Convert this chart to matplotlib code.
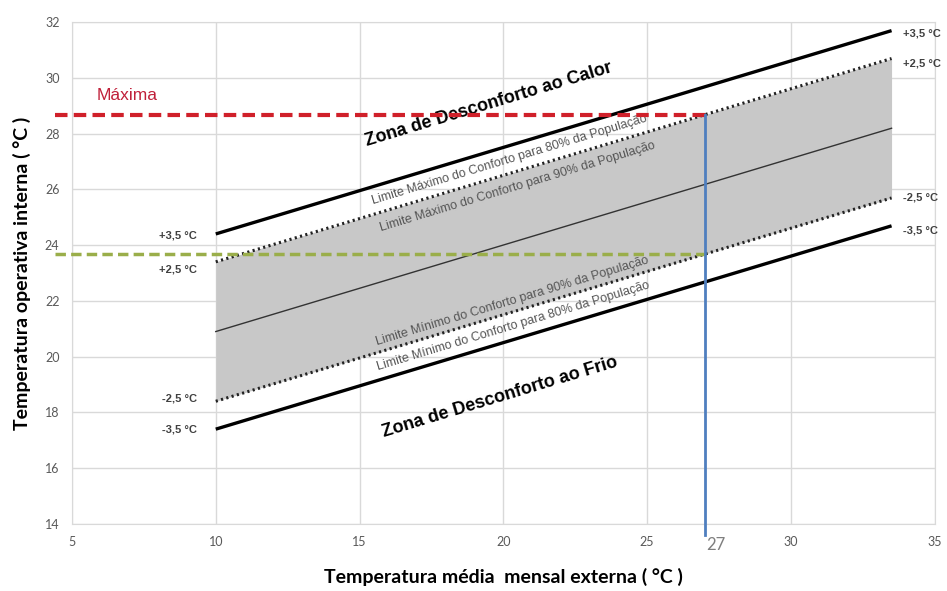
import matplotlib
matplotlib.use("Agg")
import matplotlib.pyplot as plt

# outdoor monthly mean temperature at the ends of the comfort lines
outdoor = [10, 33.5]
neutral = [20.9, 28.19]
upper_80 = [24.4, 31.69]   # +3,5 °C
upper_90 = [23.4, 30.69]   # +2,5 °C
lower_90 = [18.4, 25.69]   # -2,5 °C
lower_80 = [17.4, 24.69]   # -3,5 °C

ref_outdoor = 27
ref_max = 28.67
ref_min = 23.67
ref_start = 4.4

x_ticks = [5, 10, 15, 20, 25, 30, 35]
y_ticks = [14, 16, 18, 20, 22, 24, 26, 28, 30, 32]

plt.rcParams['font.family'] = ['Liberation Sans', 'DejaVu Sans']

fig = plt.figure(figsize=(9.47, 5.91), dpi=100)
ax = fig.add_axes([0.076, 0.1134, 0.911, 0.8494])

ax.set_xlim(5, 35)
ax.set_ylim(14, 32)
ax.set_xticks(x_ticks)
ax.set_yticks(y_ticks)
ax.grid(True, color='#d9d9d9', lw=1)
ax.set_axisbelow(True)
for s in ax.spines.values():
    s.set_color('#d9d9d9')
ax.tick_params(length=0, colors='#595959', labelsize=9, pad=9)
for lab in ax.get_xticklabels() + ax.get_yticklabels():
    lab.set_family(['Lato', 'DejaVu Sans'])

# comfort band (90%)
ax.fill_between(outdoor, lower_90, upper_90, color='#c8c8c8', lw=0, zorder=1)
ax.plot(outdoor, upper_80, color='black', lw=2.4, zorder=3, solid_capstyle='butt')
ax.plot(outdoor, lower_80, color='black', lw=2.4, zorder=3, solid_capstyle='butt')
ax.plot(outdoor, upper_90, color='#222222', lw=2.2, ls=(0, (0.7, 1.1)), zorder=3)
ax.plot(outdoor, lower_90, color='#222222', lw=2.2, ls=(0, (0.7, 1.1)), zorder=3)
ax.plot(outdoor, neutral, color='#333333', lw=1, zorder=3)

# reference lines
ax.plot([ref_start, ref_outdoor], [ref_max, ref_max], color='#d0202a', lw=3,
        ls=(0, (3, 1.5)), clip_on=False, zorder=4)
ax.plot([ref_start, ref_outdoor], [ref_min, ref_min], color='#9aae4a', lw=2.5,
        ls=(0, (3, 1.5)), clip_on=False, zorder=4)
ax.plot([ref_outdoor, ref_outdoor], [13.6, ref_max], color='#4f7fbf', lw=2,
        clip_on=False, zorder=5)
ax.text(ref_outdoor + 0.05, 13.55, '27', color='#7f7f7f', fontsize=12,
        ha='left', va='top', family=['Lato', 'DejaVu Sans'])
ax.text(5.85, 29.35, 'Máxima', color='#c0203a', fontsize=12.5, ha='left', va='center')

# offset labels
lab_kw = dict(fontsize=8, color='#404040', fontweight='bold')
ax.text(9.35, 24.36, '+3,5 °C', ha='right', va='center', **lab_kw)
ax.text(9.35, 23.14, '+2,5 °C', ha='right', va='center', **lab_kw)
ax.text(9.35, 18.5, '-2,5 °C', ha='right', va='center', **lab_kw)
ax.text(9.35, 17.37, '-3,5 °C', ha='right', va='center', **lab_kw)
ax.text(33.9, 31.6, '+3,5 °C', ha='left', va='center', clip_on=False, **lab_kw)
ax.text(33.9, 30.52, '+2,5 °C', ha='left', va='center', clip_on=False, **lab_kw)
ax.text(33.9, 25.72, '-2,5 °C', ha='left', va='center', clip_on=False, **lab_kw)
ax.text(33.9, 24.54, '-3,5 °C', ha='left', va='center', clip_on=False, **lab_kw)

# zone annotations (red line drawn over the heat zone text, as in the source)
ang = 16.8
zone_kw = dict(fontsize=13, fontweight='bold', color='black', rotation=ang,
               rotation_mode='anchor', ha='center', va='center', zorder=3.5)
ax.text(19.5, 29.05, 'Zona de Desconforto ao Calor', **zone_kw)
ax.text(19.9, 18.55, 'Zona de Desconforto ao Frio', **zone_kw)

lim_kw = dict(fontsize=9, color='#555555', rotation=ang,
              rotation_mode='anchor', ha='center', va='center', zorder=3.5)
ax.text(20.2, 27.07, 'Limite Máximo do Conforto para 80% da População', **lim_kw)
ax.text(20.5, 26.1, 'Limite Máximo do Conforto para 90% da População', **lim_kw)
ax.text(20.3, 22.0, 'Limite Mínimo do Conforto para 90% da População', **lim_kw)
ax.text(20.35, 21.08, 'Limite Mínimo do Conforto para 80% da População', **lim_kw)

ax.set_xlabel('Temperatura média  mensal externa ( °C )', fontsize=14,
              fontweight='bold', family=['Lato', 'DejaVu Sans'], labelpad=14)
ax.set_ylabel('Temperatura operativa interna ( °C )', fontsize=14,
              fontweight='bold', family=['Lato', 'DejaVu Sans'], labelpad=10)

fig.savefig('out.png', dpi=100)
